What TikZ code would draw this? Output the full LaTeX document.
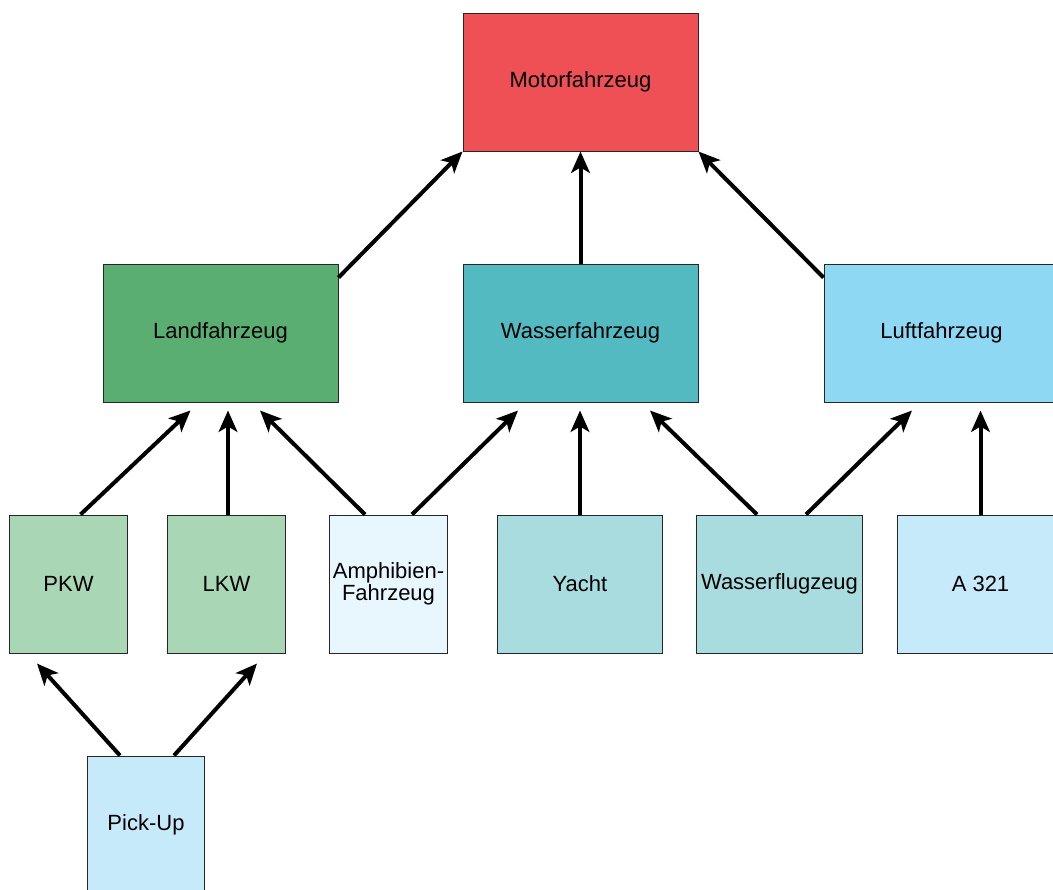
\documentclass[tikz,border=0pt]{standalone}
\usepackage{fontspec}
\setmainfont{Liberation Sans}
\usepackage{xcolor}
\definecolor{motor-red}{HTML}{EF5055}
\definecolor{land-green}{HTML}{5BAE72}
\definecolor{water-teal}{HTML}{52BAC0}
\definecolor{air-blue}{HTML}{8FD8F4}
\definecolor{pale-green}{HTML}{A9D6B5}
\definecolor{pale-teal}{HTML}{A8DCDF}
\definecolor{pale-blue}{HTML}{C6EAFA}
\definecolor{ice-blue}{HTML}{E8F6FD}
\usepackage{tikz}
\usetikzlibrary{arrows.meta}
\usetikzlibrary{calc}
\tikzset{box/.style = {draw=black!85, line width=0.75pt, align=center, text centered, minimum height=103.5pt, inner sep=1pt}}
\tikzset{wide/.style = {box, minimum width=176.25pt}}
\tikzset{narrow/.style = {box, minimum width=88pt}}
\tikzset{mid/.style = {box, minimum width=124pt}}
\tikzset{arr/.style = {line width=3pt, -{Stealth[length=16pt,width=14pt,inset=4pt]}}}

\begin{document}
\begin{tikzpicture}[x=0.75pt, y=-0.75pt,
  font=\fontsize{16.5}{16.5}\selectfont
]
\useasboundingbox (0,0) rectangle (1053,889);

\node[wide, fill=motor-red] (motor) at (580.5,82) {Motorfahrzeug};
\node[wide, fill=land-green] (land) at (220.5,333) {Landfahrzeug};
\node[wide, fill=water-teal] (wasser) at (580.5,333) {Wasserfahrzeug};
\node[wide, fill=air-blue] (luft) at (941.5,333) {Luftfahrzeug};
\node[narrow, fill=pale-green] (pkw) at (68.5,584) {PKW};
\node[narrow, fill=pale-green] (lkw) at (226.5,584) {LKW};
\node[narrow, fill=ice-blue] (amphib) at (388.5,584) {Amphibien-\\Fahrzeug};
\node[mid, fill=pale-teal] (yacht) at (580,584) {Yacht};
\node[mid, fill=pale-teal] (wflug) at (779.5,584) {Wasserflugzeug};
\node[mid, fill=pale-blue] (a321) at (980.5,584) {A 321};
% cut off at the bottom edge
\node[narrow, fill=pale-blue] (pickup) at (146,825) {Pick-Up};

\draw[arr]  ($(land.north east)+(0,14)$) -- (motor.south west);
\draw[arr]  (wasser.north) -- (motor.south);
\draw[arr]  ($(luft.north west)+(0,14)$) -- (motor.south east);
\draw[arr]  ($(pkw.north)+(12,0)$) -- ($(land.south)+(-30,8)$);
\draw[arr]  ($(lkw.north)+(1.5,0)$) -- ($(land.south)+(7.5,8)$);
\draw[arr]  ($(amphib.north)+(-23.5,0)$) -- ($(land.south)+(39.5,8)$);
\draw[arr]  ($(amphib.north)+(23.5,0)$) -- ($(wasser.south)+(-62.5,8)$);
\draw[arr]  (yacht.north) -- ($(wasser.south)+(-0.5,8)$);
\draw[arr]  ($(wflug.north)+(-22.5,0)$) -- ($(wasser.south)+(69.5,8)$);
\draw[arr]  ($(wflug.north)+(26.5,0)$) -- ($(luft.south)+(-29.5,8)$);
\draw[arr]  (a321.north) -- ($(luft.south)+(39,8)$);
\draw[arr]  ($(pickup.north)+(-26,0)$) -- ($(pkw.south)+(-31.5,10)$);
\draw[arr]  ($(pickup.north)+(28,0)$) -- ($(lkw.south)+(30.5,10)$);

\end{tikzpicture}
\end{document}
